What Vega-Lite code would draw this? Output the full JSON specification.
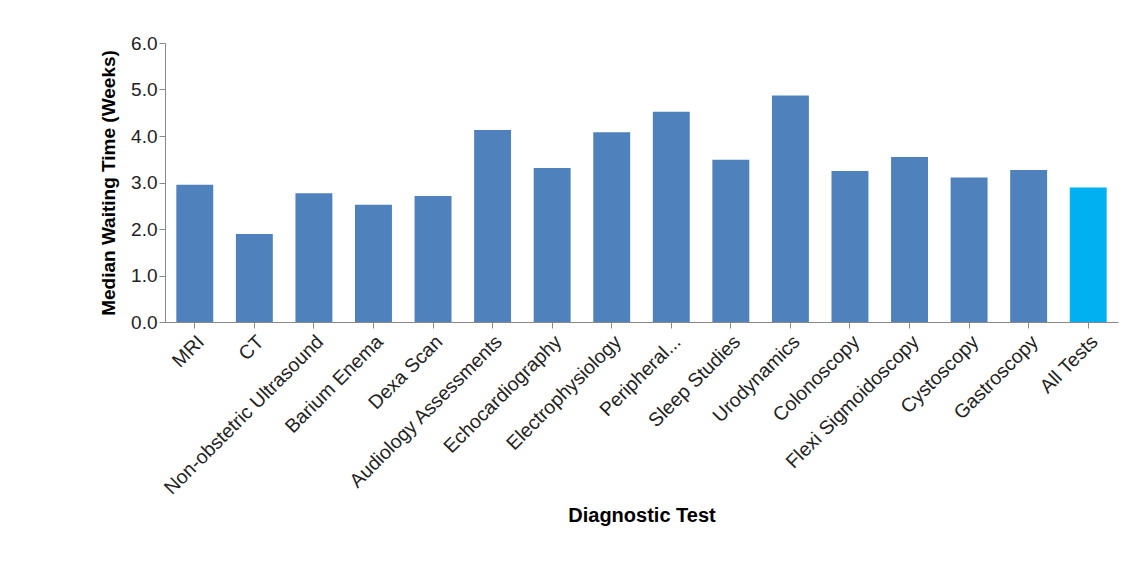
{
  "$schema": "https://vega.github.io/schema/vega-lite/v6.json",
  "autosize": {"type": "none"},
  "padding": {"left": 165, "top": 43, "right": 8, "bottom": 250},
  "width": 953,
  "height": 279,
  "background": "white",
  "config": {"view": {"stroke": null}, "font": "Liberation Sans"},
  "data": {
    "values": [
      {"test": "MRI", "weeks": 2.95, "all": false},
      {"test": "CT", "weeks": 1.89, "all": false},
      {"test": "Non-obstetric Ultrasound", "weeks": 2.77, "all": false},
      {"test": "Barium Enema", "weeks": 2.52, "all": false},
      {"test": "Dexa Scan", "weeks": 2.71, "all": false},
      {"test": "Audiology Assessments", "weeks": 4.13, "all": false},
      {"test": "Echocardiography", "weeks": 3.31, "all": false},
      {"test": "Electrophysiology", "weeks": 4.08, "all": false},
      {"test": "Peripheral...", "weeks": 4.52, "all": false},
      {"test": "Sleep Studies", "weeks": 3.49, "all": false},
      {"test": "Urodynamics", "weeks": 4.87, "all": false},
      {"test": "Colonoscopy", "weeks": 3.25, "all": false},
      {"test": "Flexi Sigmoidoscopy", "weeks": 3.55, "all": false},
      {"test": "Cystoscopy", "weeks": 3.11, "all": false},
      {"test": "Gastroscopy", "weeks": 3.27, "all": false},
      {"test": "All Tests", "weeks": 2.89, "all": true}
    ]
  },
  "mark": {"type": "bar"},
  "encoding": {
    "x": {
      "field": "test", "type": "nominal", "sort": null,
      "scale": {"paddingInner": 0.38, "paddingOuter": 0.19},
      "title": "Diagnostic Test",
      "axis": {"labelAngle": -45, "labelAlign": "right", "labelBaseline": "top", "labelFontSize": 19.5, "labelColor": "#222", "labelLimit": 0,
        "titleFontSize": 20, "titleFontWeight": "bold", "titleColor": "#000", "titlePadding": 8,
        "domainColor": "#888", "tickColor": "#888", "tickSize": 6, "labelPadding": 4}
    },
    "y": {
      "field": "weeks", "type": "quantitative",
      "scale": {"domain": [0, 6]},
      "title": "Median Waiting Time (Weeks)",
      "axis": {"values": [0, 1, 2, 3, 4, 5, 6], "format": ".1f", "grid": false, "labelFontSize": 19, "labelColor": "#222",
        "titleFontSize": 19, "titleFontWeight": "bold", "titleColor": "#000", "titlePadding": 12,
        "domainColor": "#888", "tickColor": "#888", "tickSize": 6}
    },
    "color": {"field": "all", "type": "nominal", "scale": {"domain": [false, true], "range": ["#4F81BD", "#00B0F0"]}, "legend": null}
  }
}
